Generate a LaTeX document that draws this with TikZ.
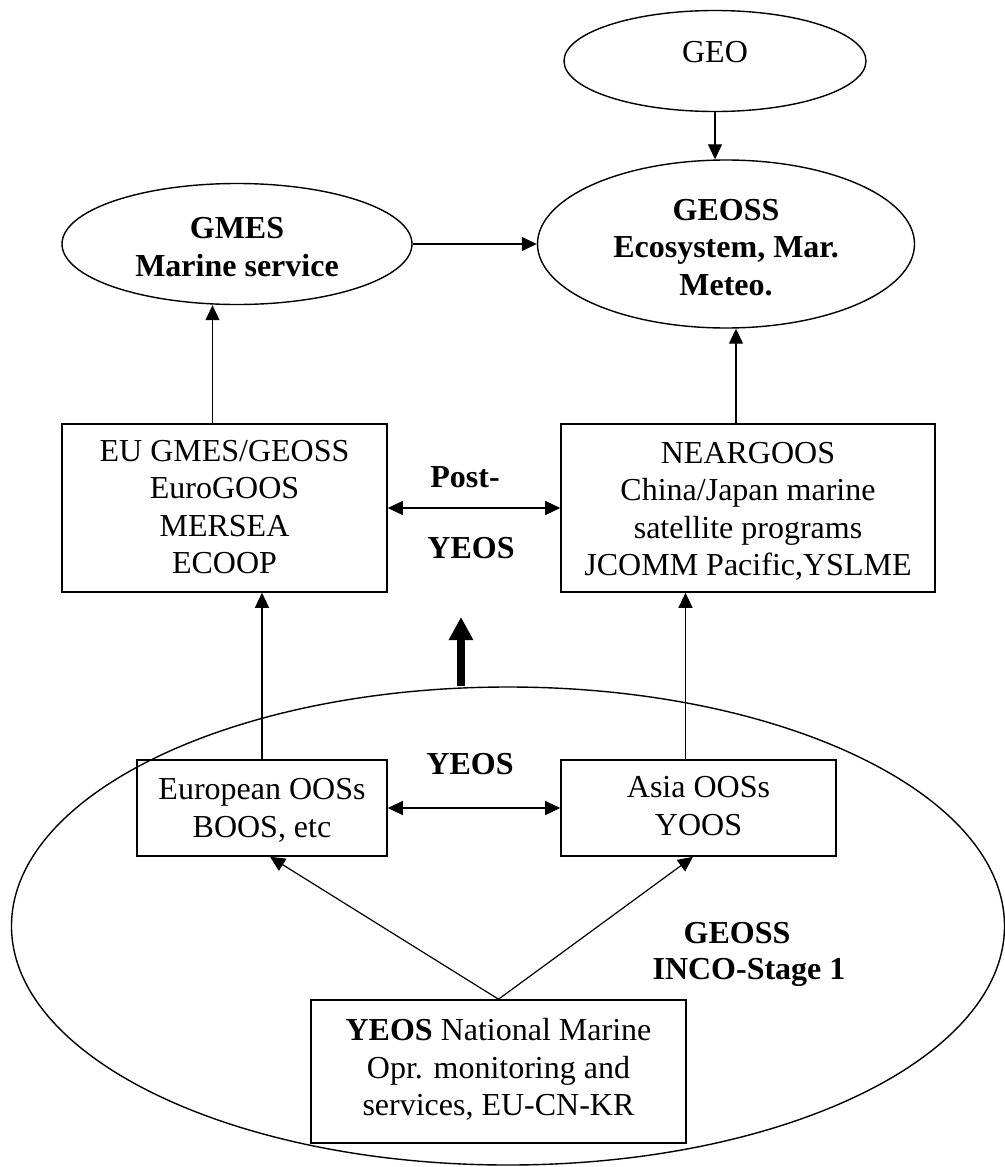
\documentclass[tikz,border=0pt]{standalone}
\usepackage{fontspec}
\setmainfont{Liberation Serif}
\usetikzlibrary{arrows.meta,shapes.geometric}
\newcommand{\movetext}[2]{\raisebox{#1}[\height][\depth]{\begin{tabular}{@{}c@{}}#2\end{tabular}}}
\begin{document}
\begin{tikzpicture}[x=0.5pt,y=-0.5pt,
  every node/.style={font=\fontsize{16pt}{18.75pt}\selectfont, align=center, inner sep=0pt},
  boxnode/.style={draw, line width=0.8pt, rectangle},
  ell/.style={draw, line width=0.7pt, ellipse},
  bold/.style={font=\fontsize{16pt}{18.75pt}\selectfont\bfseries},
  arr/.style={-{Triangle[length=7.5pt,width=7pt]}, line width=0.6pt},
  darr/.style={{Triangle[length=7.5pt,width=7pt]}-{Triangle[length=7.5pt,width=7pt]}, line width=0.6pt},
  bigarr/.style={-{Triangle[length=11.5pt,width=11.5pt]}, line width=4pt}
]
\useasboundingbox (0,0) rectangle (1005,1167);

% big ellipse
\node[ell, minimum width=496.5pt, minimum height=239pt] (big) at (508,926) {};

% top ellipses
\node[ell, minimum width=151pt, minimum height=50.5pt] (GEO) at (715,61) {\movetext{3pt}{GEO}};
\node[ell, bold, minimum width=188.5pt, minimum height=84pt] (GEOSS) at (726,244) {\movetext{-3pt}{GEOSS\\Ecosystem, Mar.\\Meteo.}};
\node[ell, bold, minimum width=175pt, minimum height=60.5pt] (GMES) at (237,244) {\movetext{-3pt}{GMES\\Marine service}};

% boxes
\node[boxnode, minimum width=162.5pt, minimum height=84pt] (EU) at (224.5,508) {\movetext{-1pt}{EU GMES/GEOSS\\EuroGOOS\\MERSEA\\ECOOP}};
\node[boxnode, minimum width=187pt, minimum height=84pt] (NEAR) at (748,508) {\movetext{-2pt}{NEARGOOS\\China/Japan marine\\satellite programs\\JCOMM Pacific,YSLME}};
\node[boxnode, minimum width=125pt, minimum height=48pt] (EUR) at (262,808) {\movetext{-1.5pt}{European OOSs\\BOOS, etc}};
\node[boxnode, minimum width=137.5pt, minimum height=48pt] (ASIA) at (698.5,808) {\movetext{-0.5pt}{Asia OOSs\\YOOS}};
\node[boxnode, minimum width=187.5pt, minimum height=71.5pt] (NAT) at (498.5,1071.5) {\movetext{0.5pt}{\textbf{YEOS} National Marine\\Opr. monitoring and\\services, EU-CN-KR}};

% labels
\node[bold] (post) at (465,477) {Post-};
\node[bold] (yeosA) at (471,548) {YEOS};
\node[bold] (yeosB) at (470,764) {YEOS};
\node[bold] (geossl) at (737,933) {GEOSS};
\node[bold] (incol) at (749,972) {INCO-Stage 1};

% helper coordinates
\coordinate (a1) at ([xshift=-6pt]EU.north);
\coordinate (a2) at ([xshift=-6pt]NEAR.north);
\coordinate (a3) at ([xshift=-6.5pt]ASIA.north);
\coordinate (t1) at ([xshift=4pt]EUR.south);
\coordinate (t2) at ([xshift=-2.75pt]ASIA.south);
\coordinate (tb) at ([xshift=-23.5pt]big.north);
\coordinate (tt) at (461,617);

% connectors
\draw[arr] (GEO.south) -- (GEO.south |- GEOSS.north);
\draw[arr] (GMES.east) -- (GEOSS.west);
\draw[arr] (a1) -- (a1 |- GMES.south);
\draw[arr] (a2) -- (a2 |- GEOSS.south);
\draw[darr] (EU.east) -- (NEAR.west);
\draw[arr] (EUR.north) -- (EUR.north |- EU.south);
\draw[arr] (a3) -- (a3 |- NEAR.south);
\draw[darr] (EUR.east) -- (ASIA.west);
\draw[arr] (NAT.north) -- (t1);
\draw[arr] (NAT.north) -- (t2);
\draw[bigarr] (tb) -- (tt);
\end{tikzpicture}
\end{document}
